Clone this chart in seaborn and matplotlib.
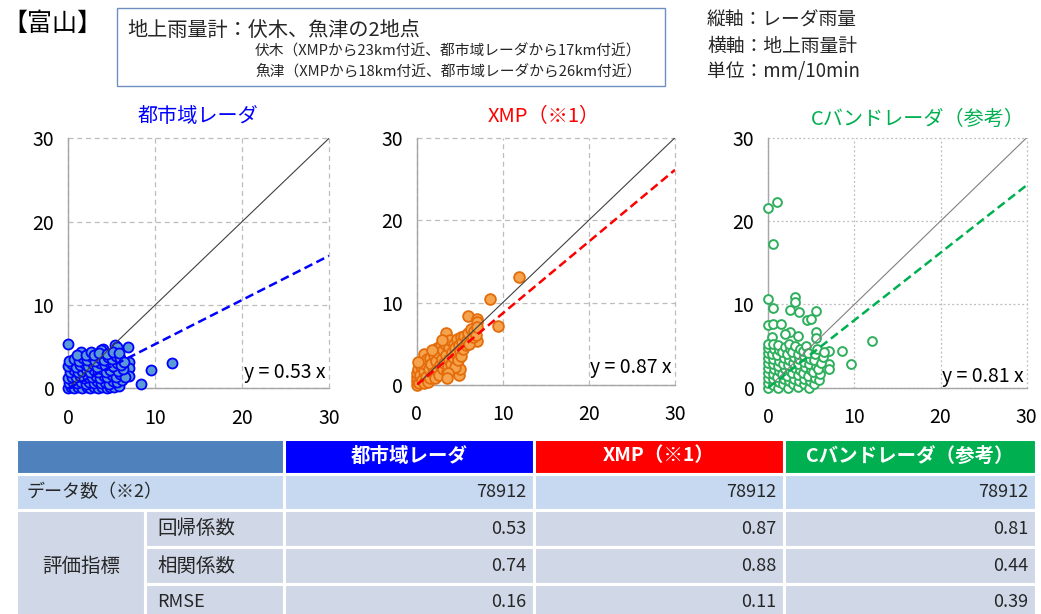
import numpy as np
import pandas as pd
import matplotlib
matplotlib.use("Agg")
import matplotlib.pyplot as plt
from matplotlib.patches import Rectangle
import seaborn as sns

sns.set_theme(style="white")
plt.rcParams["font.family"] = ["Noto Sans CJK JP", "DejaVu Sans"]

# ---------------- data ----------------
panel_titles = ["都市域レーダ", "XMP（※1）", "Cバンドレーダ（参考）"]
panel_colors = ["#0000FF", "#FF0000", "#00B050"]
reg_slopes = [0.53, 0.87, 0.81]
eq_labels = ["y = 0.53 x", "y = 0.87 x", "y = 0.81 x"]

# 都市域レーダ: gauge (x) vs radar (y), mm/10min
city_gauge = [0.0, 5.4, 5.6, 6.9, 4.0, 3.8, 1.5, 7.0, 7.0, 7.0, 9.5, 11.9, 8.4,
              0.0, 0.3, 0.7, 1.1, 1.6, 2.1, 2.5, 3.0, 3.4, 3.9, 4.4, 4.8, 5.3, 5.8,
              0.1, 0.5, 1.0, 1.5, 2.0, 2.4, 2.9, 3.3, 3.8, 4.2, 4.7, 5.1, 5.6, 6.2,
              0.0, 0.4, 0.9, 1.3, 1.8, 2.3, 2.7, 3.2, 3.6, 4.1, 4.5, 5.0, 5.5, 6.0, 6.5,
              0.2, 0.6, 1.1, 1.6, 2.0, 2.5, 3.0, 3.4, 3.9, 4.3, 4.8, 5.3, 5.7, 6.3,
              0.0, 0.4, 0.9, 1.4, 1.8, 2.3, 2.8, 3.3, 3.7, 4.2, 4.7, 5.1, 5.6, 6.1,
              0.1, 0.6, 1.2, 1.7, 2.2, 2.7, 3.1, 3.6, 4.1, 4.6, 5.0, 5.5, 6.0, 6.4,
              1.0, 2.0, 2.6, 3.0, 3.5, 4.5, 5.1, 5.8]
city_radar = [5.3, 5.2, 5.0, 4.9, 4.7, 4.6, 4.3, 3.2, 2.4, 1.5, 2.2, 3.0, 0.5,
              0.0, 0.1, 0.0, 0.2, 0.0, 0.1, 0.0, 0.2, 0.0, 0.1, 0.0, 0.2, 0.1, 0.3,
              0.6, 0.8, 0.6, 0.7, 0.5, 0.8, 0.6, 0.9, 0.6, 0.8, 0.5, 0.9, 0.7, 1.0,
              1.2, 1.4, 1.3, 1.5, 1.2, 1.4, 1.3, 1.5, 1.2, 1.5, 1.3, 1.6, 1.4, 1.7, 1.4,
              2.0, 2.2, 1.9, 2.1, 2.3, 2.0, 2.2, 1.9, 2.3, 2.0, 2.2, 2.5, 2.1, 2.3,
              2.7, 2.9, 2.6, 2.8, 3.0, 2.7, 2.9, 2.6, 3.0, 2.8, 3.1, 2.7, 3.0, 2.8,
              3.3, 3.5, 3.3, 3.6, 3.4, 3.7, 3.3, 3.6, 3.4, 3.8, 3.5, 3.9, 3.6, 3.2,
              4.0, 4.0, 4.3, 4.0, 4.2, 4.1, 4.4, 4.2]

# XMP
xmp_gauge = [11.9, 8.5, 9.5, 6.0, 7.0, 7.0, 7.0, 3.4, 4.9, 5.0, 0.8,
             0.0, 0.0, 0.0, 0.0, 0.1, 0.3, 0.4, 0.5, 0.6, 0.8, 0.9, 1.0, 1.1, 1.2,
             1.3, 1.4, 1.5, 1.6, 1.7, 1.9, 2.0, 2.1, 2.2, 2.3, 2.4, 2.5, 2.6, 2.7,
             2.8, 2.9, 3.0, 3.1, 3.2, 3.3, 3.4, 3.5, 3.6, 3.7, 3.8, 3.9, 4.0, 4.1,
             4.2, 4.3, 4.4, 4.5, 4.6, 4.7, 4.8, 4.9, 5.0, 5.1, 5.2, 5.3, 5.4, 5.5,
             5.7, 5.8, 6.0, 6.1, 6.3, 6.5, 6.7, 6.9, 7.0, 3.6, 3.5, 2.9, 1.8, 0.2]
xmp_radar = [13.1, 10.4, 7.1, 8.4, 8.0, 7.7, 5.3, 6.3, 1.2, 2.0, 3.8,
             0.0, 0.5, 1.0, 1.5, 2.0, 0.2, 1.2, 2.3, 0.6, 1.7, 0.3, 2.6, 1.0, 3.1,
             0.4, 1.9, 3.3, 0.9, 2.5, 1.4, 3.6, 0.8, 2.9, 4.5, 1.8, 3.9, 1.2, 2.4,
             4.8, 3.2, 1.9, 4.2, 2.7, 5.0, 3.6, 1.6, 2.3, 4.6, 3.1, 5.4, 2.6, 4.0,
             3.4, 5.0, 2.2, 4.5, 3.7, 5.6, 3.0, 4.8, 4.1, 5.8, 3.5, 5.2, 4.4, 6.0,
             4.8, 5.5, 6.3, 5.0, 6.8, 5.8, 6.5, 6.1, 7.0, 1.4, 0.9, 5.5, 4.2, 2.8]

# Cバンドレーダ
cband_gauge = [0.0, 1.0, 0.5, 0.0, 0.5, 3.1, 3.1, 2.5, 3.6, 4.5, 5.0, 5.5, 0.0, 0.5,
               1.5, 5.5, 2.5, 1.9, 0.4, 12.0, 8.5, 9.6, 7.0, 7.0, 7.0, 5.5, 3.5,
               0.0, 0.0, 0.0, 0.0, 0.0, 0.0, 0.0, 0.0, 0.0, 0.0,
               0.5, 0.6, 0.5, 0.7, 0.5, 0.6, 0.4, 0.7, 0.6,
               1.1, 1.2, 1.0, 1.3, 1.1, 1.2, 1.0, 1.3, 1.1,
               1.7, 1.8, 1.6, 1.9, 1.7, 1.8, 1.6, 1.9,
               2.3, 2.4, 2.2, 2.5, 2.3, 2.4, 2.2, 2.5, 2.4,
               2.9, 3.0, 2.8, 3.1, 2.9, 3.0, 2.8, 3.1,
               3.5, 3.6, 3.4, 3.7, 3.5, 3.6, 3.4, 3.7,
               4.1, 4.2, 4.0, 4.3, 4.1, 4.2, 4.0, 4.4,
               4.7, 4.8, 4.6, 4.9, 4.7, 4.8, 4.6,
               5.3, 5.4, 5.2, 5.5, 5.3, 5.4, 5.6,
               5.9, 6.0, 5.8, 6.1, 6.3, 6.5]
cband_radar = [21.6, 22.3, 17.2, 10.6, 9.6, 10.9, 10.3, 9.3, 9.1, 8.1, 8.2, 9.2, 7.5, 7.6,
               7.6, 6.7, 6.7, 6.5, 6.1, 5.6, 4.4, 2.8, 4.4, 2.9, 2.2, 6.0, 6.2,
               0.0, 0.6, 1.2, 1.8, 2.4, 3.0, 3.6, 4.2, 4.8, 5.3,
               0.3, 1.0, 1.6, 2.2, 2.9, 3.5, 4.1, 4.7, 5.2,
               0.0, 0.7, 1.3, 2.0, 2.6, 3.2, 3.9, 4.5, 5.1,
               0.4, 1.0, 1.7, 2.3, 2.9, 3.6, 4.3, 4.9,
               0.0, 0.8, 1.4, 2.0, 2.7, 3.3, 4.0, 4.6, 5.3,
               0.5, 1.1, 1.8, 2.4, 3.0, 3.7, 4.3, 5.0,
               0.1, 0.8, 1.5, 2.1, 2.8, 3.4, 4.0, 4.7,
               0.4, 1.1, 1.8, 2.5, 3.1, 3.8, 4.4, 5.0,
               0.0, 0.8, 1.4, 2.1, 2.8, 3.5, 4.2,
               0.5, 1.2, 1.9, 2.6, 3.3, 4.0, 4.6,
               0.9, 1.6, 2.3, 3.0, 3.7, 4.3]

# table contents
table_rows = ["回帰係数", "相関係数", "RMSE"]
data_count = [78912, 78912, 78912]
reg_coef = [0.53, 0.87, 0.81]
corr_coef = [0.74, 0.88, 0.44]
rmse = [0.16, 0.11, 0.39]

axis_ticks = [0, 10, 20, 30]
line_domain = np.array([0.0, 30.0])

# ---------------- figure ----------------
W, H = 1041, 614
fig = plt.figure(figsize=(W / 100, H / 100), dpi=100)
fig.patch.set_facecolor("white")

# pixel-space overlay for header, titles and table
bg = fig.add_axes([0, 0, 1, 1], zorder=0)
bg.set_xlim(0, W)
bg.set_ylim(H, 0)
bg.axis("off")

bg.text(2, 24, "【富山】", fontsize=18, va="center", ha="left", color="black")
bg.add_patch(Rectangle((117, 8), 548, 78, fill=False, edgecolor="#6F8FC0", lw=1.0))
bg.text(127, 30, "地上雨量計：伏木、魚津の2地点", fontsize=14.5, va="center", ha="left")
bg.text(255, 51, "伏木（XMPから23km付近、都市域レーダから17km付近）", fontsize=10.6,
        va="center", ha="left")
bg.text(255, 71, "魚津（XMPから18km付近、都市域レーダから26km付近）", fontsize=10.6,
        va="center", ha="left")
for i, line in enumerate(["縦軸：レーダ雨量", "横軸：地上雨量計", "単位：mm/10min"]):
    bg.text(707, 20 + 26 * i, line, fontsize=13.5, va="center", ha="left")

title_pos = [(198, 117), (544, 117), (918, 119)]
for (tx, ty), t, c in zip(title_pos, panel_titles, panel_colors):
    bg.text(tx, ty, t, fontsize=14.5, color=c, ha="center", va="center")

# ---------------- scatter panels ----------------
axes_rect_px = [(68.3, 138.3, 329.0, 388.3),
                (416.7, 137.7, 675.0, 385.0),
                (768.3, 137.7, 1026.7, 387.7)]
scatter_sets = [(city_gauge, city_radar), (xmp_gauge, xmp_radar), (cband_gauge, cband_radar)]
marker_face = ["#5B9BD5", "#F5A34C", "white"]
marker_edge = ["#0000FF", "#E46C0A", "#2EAF5C"]
marker_size = [52, 60, 40]
marker_lw = [1.3, 1.3, 1.4]
ref_line_color = ["#404040", "#404040", "#808080"]
grid_style = [(0, (4, 3)), (0, (4, 3)), (0, (1.5, 2))]
eq_pos = [(29.6, 1.9), (29.6, 2.1), (29.6, 1.3)]
regline_dash = [(3.5, 1.8), (3.5, 1.8), (3.5, 1.8)]

for i, (x0, y0, x1, y1) in enumerate(axes_rect_px):
    ax = fig.add_axes([x0 / W, 1 - y1 / H, (x1 - x0) / W, (y1 - y0) / H], zorder=2)
    ax.set_facecolor("none")
    gx, gy = scatter_sets[i]
    df = pd.DataFrame({"gauge": gx, "radar": gy})

    ax.set_xlim(0, 30)
    ax.set_ylim(0, 30)
    ax.set_xticks(axis_ticks)
    ax.set_yticks(axis_ticks)
    ax.grid(True, color="#BDBDBD", lw=0.9, linestyle=grid_style[i])
    for gl in ax.get_xgridlines() + ax.get_ygridlines():
        gl.set_clip_on(False)
    ax.set_axisbelow(True)
    for side in ["top", "right"]:
        ax.spines[side].set_visible(False)
    for side in ["left", "bottom"]:
        ax.spines[side].set_color("#A6A6A6")
        ax.spines[side].set_linewidth(1.0)
    ax.tick_params(axis="both", length=0, labelsize=14, colors="black")
    ax.tick_params(axis="x", pad=14)
    ax.tick_params(axis="y", pad=10)

    sns.scatterplot(data=df, x="gauge", y="radar", ax=ax, s=marker_size[i],
                    color=marker_face[i], edgecolor=marker_edge[i],
                    linewidth=marker_lw[i], clip_on=False, zorder=3, legend=False)

    # 1:1 reference line
    sns.lineplot(x=line_domain, y=line_domain, ax=ax, color=ref_line_color[i],
                 lw=0.8, zorder=4)
    # regression line through the origin
    reg = sns.lineplot(x=line_domain, y=reg_slopes[i] * line_domain, ax=ax,
                       color=panel_colors[i], lw=1.8, zorder=5)
    reg.lines[-1].set_dashes(regline_dash[i])

    ax.text(eq_pos[i][0], eq_pos[i][1], eq_labels[i], ha="right", va="center",
            fontsize=14, color="black", zorder=6)
    ax.set_xlabel("")
    ax.set_ylabel("")

# ---------------- table ----------------
col_edges = [16, 145, 284, 534, 784, 1036]
row_edges = [439, 474, 510, 547, 584, 622]
header_colors = ["#4F81BD", "#0000FF", "#FF0000", "#00B050"]
count_color = "#C6D9F1"
body_color = "#D0D8E8"


def cell(c0, c1, r0, r1, color):
    bg.add_patch(Rectangle((col_edges[c0], row_edges[r0]),
                           col_edges[c1] - col_edges[c0],
                           row_edges[r1] - row_edges[r0],
                           facecolor=color, edgecolor="white", lw=2.2, clip_on=False))


# header row
cell(0, 2, 0, 1, header_colors[0])
for j in range(3):
    cell(2 + j, 3 + j, 0, 1, header_colors[1 + j])
    bg.text((col_edges[2 + j] + col_edges[3 + j]) / 2, 456, panel_titles[j],
            color="white", fontsize=14, fontweight="bold", ha="center", va="center")

# data count row
cell(0, 2, 1, 2, count_color)
bg.text(27, 492, "データ数（※2）", fontsize=13, ha="left", va="center")
for j in range(3):
    cell(2 + j, 3 + j, 1, 2, count_color)
    bg.text(col_edges[3 + j] - 8, 492, f"{data_count[j]}", fontsize=13,
            ha="right", va="center")

# evaluation rows
cell(0, 1, 2, 5, body_color)
bg.text(81, 566, "評価指標", fontsize=14, ha="center", va="center")
row_values = [reg_coef, corr_coef, rmse]
row_centers = [529, 566, 602]
for r in range(3):
    cell(1, 2, 2 + r, 3 + r, body_color)
    bg.text(157, row_centers[r], table_rows[r], fontsize=14 if r < 2 else 13,
            ha="left", va="center")
    for j in range(3):
        cell(2 + j, 3 + j, 2 + r, 3 + r, body_color)
        bg.text(col_edges[3 + j] - 8, row_centers[r], f"{row_values[r][j]:.2f}",
                fontsize=13, ha="right", va="center")

fig.savefig("out.png", dpi=100, facecolor="white")
